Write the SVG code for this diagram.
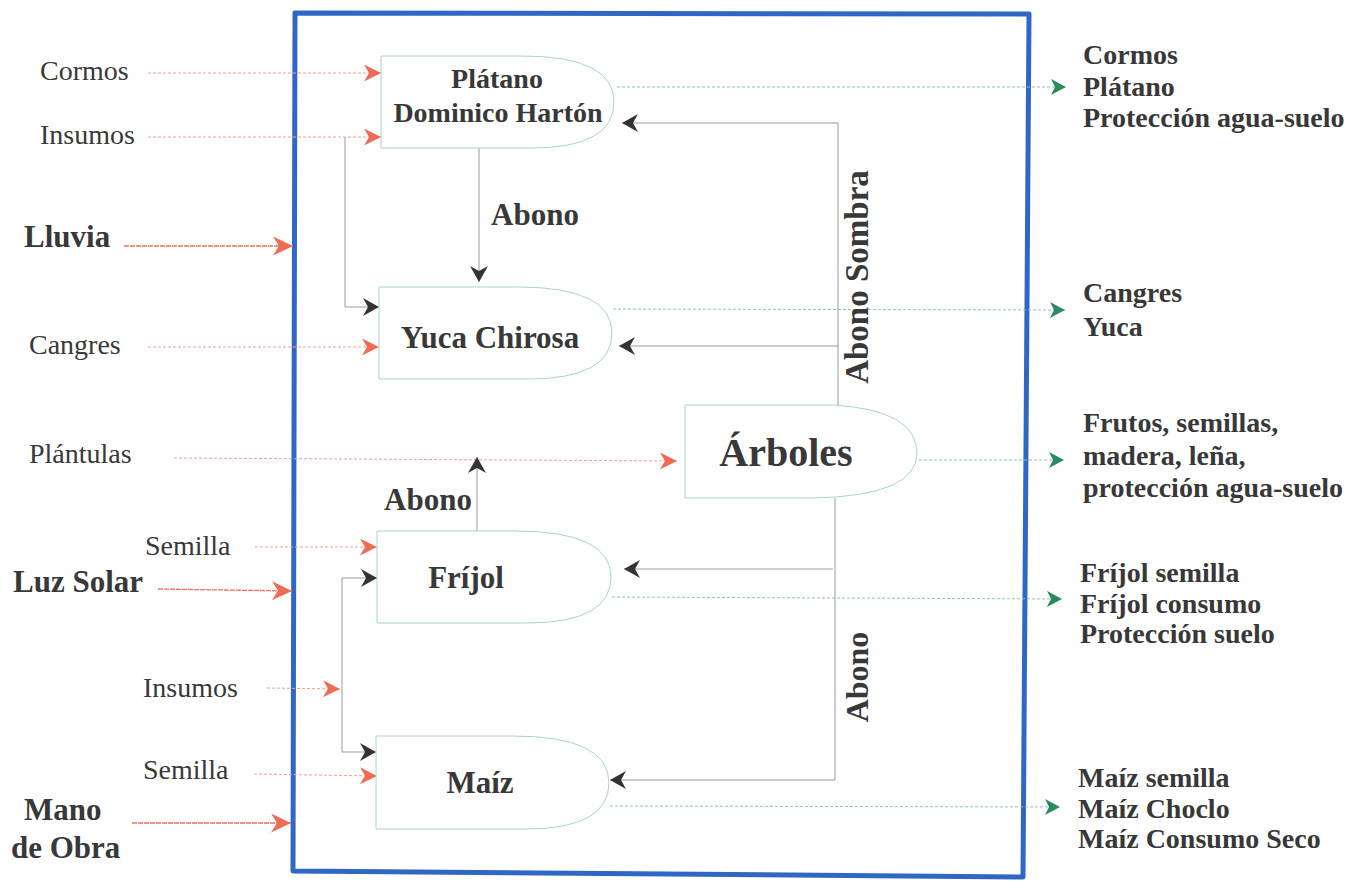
<svg xmlns="http://www.w3.org/2000/svg" width="1354" height="881" viewBox="0 0 1354 881">
<style>
  text { font-family: "Liberation Serif", "Times New Roman", serif; fill: #383838; }
  .lbl { font-size: 28px; }
  .lblb { font-size: 31px; font-weight: bold; }
  .out { font-size: 28px; font-weight: bold; }
  .nt { font-weight: bold; text-anchor: middle; }
  .node { fill: #ffffff; stroke: #a9d6c4; stroke-width: 1; }
  .in { fill: none; stroke: #f0a090; stroke-width: 1; stroke-dasharray: 3 2; }
  .inb { fill: none; stroke: #e8725e; stroke-width: 1.3; stroke-dasharray: 5 1; }
  .gr { fill: none; stroke: #9a9a9a; stroke-width: 1; }
  .go { fill: none; stroke: #8cc4b4; stroke-width: 1; stroke-dasharray: 3 2; }
  .frame { fill: none; stroke: #2f68c4; stroke-width: 5; stroke-linejoin: round; }
</style>
<defs>
  <marker id="aRed" markerUnits="userSpaceOnUse" viewBox="0 0 17 17" markerWidth="17" markerHeight="17" refX="17" refY="8.5" orient="auto">
    <path d="M0,0 L17,8.5 L0,17 L5,8.5 Z" fill="#ee6b55"/>
  </marker>
  <marker id="aRedL" markerUnits="userSpaceOnUse" viewBox="0 0 20 19" markerWidth="20" markerHeight="19" refX="20" refY="9.5" orient="auto">
    <path d="M0,0 L20,9.5 L0,19 L6,9.5 Z" fill="#ee6b55"/>
  </marker>
  <marker id="aGray" markerUnits="userSpaceOnUse" viewBox="0 0 16 18" markerWidth="16" markerHeight="18" refX="16" refY="9" orient="auto">
    <path d="M0,0 L16,9 L0,18 L5,9 Z" fill="#333333"/>
  </marker>
  <marker id="aGreen" markerUnits="userSpaceOnUse" viewBox="0 0 15 16" markerWidth="15" markerHeight="16" refX="15" refY="8" orient="auto">
    <path d="M0,0 L15,8 L0,16 L4,8 Z" fill="#2b8a5e"/>
  </marker>
</defs>

<rect width="1354" height="881" fill="#ffffff"/>

<g id="frame">
  <polygon class="frame" points="295,13 1029,14 1023,877 293,871"/>
</g>

<g id="connectors">
  <!-- inputs -->
  <path class="in" d="M148,73 L381,73" marker-end="url(#aRed)"/>
  <path class="in" d="M148,137 L381,137" marker-end="url(#aRed)"/>
  <path class="inb" d="M124,246 L293,246" marker-end="url(#aRedL)"/>
  <path class="in" d="M148,347 L379,347" marker-end="url(#aRed)"/>
  <path class="in" d="M174,458 L677,461" marker-end="url(#aRed)"/>
  <path class="in" d="M255,547 L377,547" marker-end="url(#aRed)"/>
  <path class="inb" d="M158,589 L292,591" marker-end="url(#aRedL)"/>
  <path class="in" d="M267,688 L340,689" marker-end="url(#aRed)"/>
  <path class="in" d="M254,774 L377,776" marker-end="url(#aRed)"/>
  <path class="inb" d="M132,823 L291,823" marker-end="url(#aRedL)"/>

  <!-- internal flows -->
  <path class="gr" d="M345,137 V307 H379" marker-end="url(#aGray)"/>
  <path class="gr" d="M479,148 V282" marker-end="url(#aGray)"/>
  <path class="gr" d="M838,405 V123 H622" marker-end="url(#aGray)"/>
  <path class="gr" d="M838,346 H619" marker-end="url(#aGray)"/>
  <path class="gr" d="M477,531 V457" marker-end="url(#aGray)"/>
  <path class="gr" d="M835,498 V780 H610" marker-end="url(#aGray)"/>
  <path class="gr" d="M833,569 H624" marker-end="url(#aGray)"/>
  <path class="gr" d="M342,689 V578 H377" marker-end="url(#aGray)"/>
  <path class="gr" d="M342,689 V752 H376" marker-end="url(#aGray)"/>

  <!-- outputs -->
  <path class="go" d="M617,87 L1066,87" marker-end="url(#aGreen)"/>
  <path class="go" d="M613,309 L1065,310" marker-end="url(#aGreen)"/>
  <path class="go" d="M919,460 L1064,460" marker-end="url(#aGreen)"/>
  <path class="go" d="M612,597 L1062,599" marker-end="url(#aGreen)"/>
  <path class="go" d="M610,806 L1060,807" marker-end="url(#aGreen)"/>

  <!-- flow labels -->
  <text class="nt" x="535" y="225" font-size="31">Abono</text>
  <text class="nt" x="428" y="510" font-size="31">Abono</text>
  <text class="nt" font-size="33" transform="translate(868,277) rotate(-90)">Abono Sombra</text>
  <text class="nt" font-size="32" transform="translate(868,677) rotate(-90)">Abono</text>
</g>

<g id="node-platano">
  <path class="node" d="M381,56 H522 Q614,56 614,102 Q614,148 531,148 H381 Z"/>
  <text class="nt" x="497" y="88" font-size="28">Plátano</text>
  <text class="nt" x="498" y="122" font-size="28">Dominico Hartón</text>
</g>

<g id="node-yuca">
  <path class="node" d="M379,287 H518 Q612,287 612,333 Q612,379 528,379 H379 Z"/>
  <text class="nt" x="490" y="348" font-size="31">Yuca Chirosa</text>
</g>

<g id="node-arboles">
  <path class="node" d="M685,405 H833 Q917,410 917,453 Q917,496 813,498 H685 Z"/>
  <text class="nt" x="786" y="466" font-size="40">Árboles</text>
</g>

<g id="node-frijol">
  <path class="node" d="M377,531 H515 Q611,531 611,577 Q611,623 527,623 H377 Z"/>
  <text class="nt" x="466" y="588" font-size="31">Fríjol</text>
</g>

<g id="node-maiz">
  <path class="node" d="M376,736 H513 Q609,736 609,783 Q609,829 525,829 H376 Z"/>
  <text class="nt" x="480" y="793" font-size="31">Maíz</text>
</g>

<g id="inputs">
  <text class="lbl" x="40" y="80">Cormos</text>
  <text class="lbl" x="40" y="144">Insumos</text>
  <text class="lblb" x="24" y="247">Lluvia</text>
  <text class="lbl" x="29" y="354">Cangres</text>
  <text class="lbl" x="29" y="463">Plántulas</text>
  <text class="lbl" x="145" y="555" font-size="30">Semilla</text>
  <text class="lblb" x="13" y="592">Luz Solar</text>
  <text class="lbl" x="143" y="697" font-size="30">Insumos</text>
  <text class="lbl" x="143" y="779" font-size="30">Semilla</text>
  <text class="lblb" x="24" y="820">Mano</text>
  <text class="lblb" x="11" y="858">de Obra</text>
</g>

<g id="outputs">
  <text class="out" x="1083" y="64">Cormos</text>
  <text class="out" x="1083" y="96">Plátano</text>
  <text class="out" x="1083" y="127">Protección agua-suelo</text>
  <text class="out" x="1083" y="302">Cangres</text>
  <text class="out" x="1083" y="336">Yuca</text>
  <text class="out" x="1083" y="432">Frutos, semillas,</text>
  <text class="out" x="1083" y="465">madera, leña,</text>
  <text class="out" x="1083" y="497">protección agua-suelo</text>
  <text class="out" x="1080" y="582">Fríjol semilla</text>
  <text class="out" x="1080" y="613">Fríjol consumo</text>
  <text class="out" x="1080" y="643">Protección suelo</text>
  <text class="out" x="1078" y="787">Maíz semilla</text>
  <text class="out" x="1078" y="818">Maíz Choclo</text>
  <text class="out" x="1078" y="848">Maíz Consumo Seco</text>
</g>
</svg>
